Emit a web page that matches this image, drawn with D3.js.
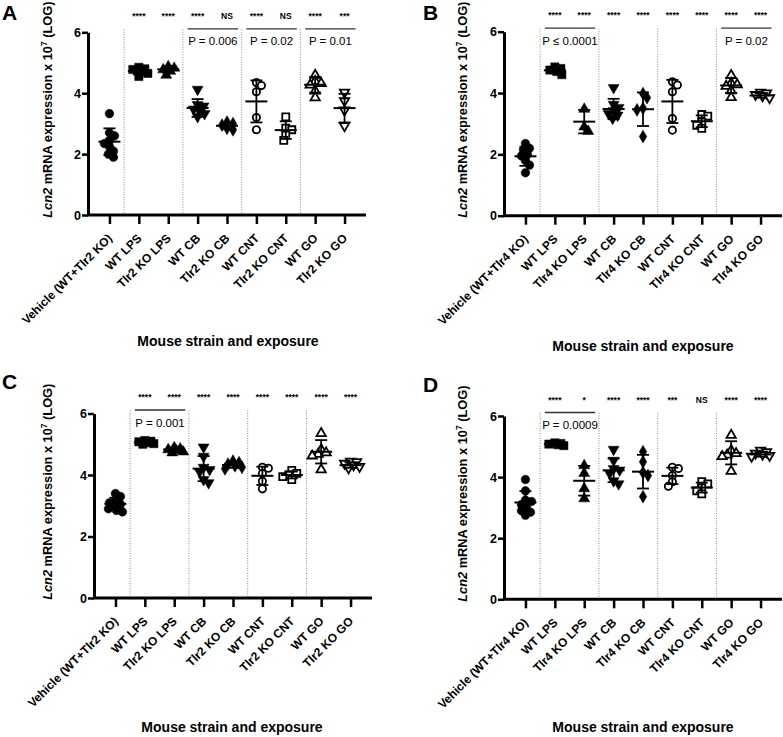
<!DOCTYPE html>
<html><head><meta charset="utf-8">
<script src="https://cdn.jsdelivr.net/npm/d3@7"></script>
<style>
html,body{margin:0;padding:0;background:#fff;}
svg{display:block;font-family:"Liberation Sans",Arial,Helvetica,sans-serif;}
</style></head>
<body>
<svg id="chart" width="783" height="737"></svg>
<script>
// ---------- data ----------
const categoriesTlr2 = ["Vehicle (WT+Tlr2 KO)","WT LPS","Tlr2 KO LPS","WT CB","Tlr2 KO CB","WT CNT","Tlr2 KO CNT","WT GO","Tlr2 KO GO"];
const categoriesTlr4 = ["Vehicle (WT+Tlr4 KO)","WT LPS","Tlr4 KO LPS","WT CB","Tlr4 KO CB","WT CNT","Tlr4 KO CNT","WT GO","Tlr4 KO GO"];
const yTicks = [0,2,4,6];

const valuesA = [
  [3.33,2.7,2.6,2.45,2.35,2.25,2.1,2.0,1.9],
  [4.85,4.8,4.78,4.72,4.65,4.55],
  [4.9,4.85,4.8,4.75,4.62],
  [4.1,3.6,3.55,3.45,3.4,3.3,3.2],
  [3.05,3.0,2.95,2.85,2.8],
  [4.35,4.25,4.05,3.2,2.8],
  [3.22,2.85,2.8,2.62,2.45],
  [4.62,4.42,4.35,4.3,4.1,3.88],
  [4.0,3.72,3.42,2.9]
];
const valuesB = [
  [2.35,2.2,2.15,2.0,1.95,1.8,1.65,1.4],
  [4.85,4.8,4.75,4.7,4.6],
  [3.5,2.92,2.78],
  [4.15,3.6,3.5,3.4,3.3,3.25,3.15],
  [3.98,3.85,3.5,3.45,2.58],
  [4.37,4.26,4.04,3.17,2.79],
  [3.3,3.25,3.05,2.95,2.85],
  [4.6,4.35,4.3,4.25,4.1,3.88],
  [4.0,3.97,3.92,3.88,3.82]
];
const valuesC = [
  [3.4,3.3,3.15,3.1,3.05,3.0,2.9,2.85,2.8],
  [5.12,5.1,5.08,5.05,5.02,5.0],
  [4.92,4.88,4.85,4.82,4.78,4.75],
  [4.88,4.58,4.22,4.15,4.08,3.82,3.72],
  [4.45,4.4,4.35,4.3,4.25,4.2],
  [4.25,4.22,4.05,3.8,3.55],
  [4.15,4.05,4.0,3.95,3.85],
  [5.38,4.85,4.75,4.7,4.65,4.2],
  [4.42,4.4,4.35,4.3,4.25,4.2]
];
const valuesD = [
  [3.92,3.55,3.25,3.2,3.1,3.0,2.9,2.85,2.75],
  [5.12,5.1,5.08,5.06,5.03],
  [4.4,4.15,3.65,3.32],
  [4.88,4.52,4.25,4.2,4.1,3.85,3.75],
  [4.83,4.5,4.15,4.05,3.36],
  [4.32,4.28,4.05,3.85,3.7],
  [3.85,3.78,3.65,3.55,3.45],
  [5.4,4.9,4.8,4.75,4.7,4.22],
  [4.85,4.8,4.75,4.72,4.68,4.65]
];
const starsA = ["****","****","****","NS","****","NS","****","***"];
const starsB = ["****","****","****","****","****","****","****","****"];
const starsC = ["****","****","****","****","****","****","****","****"];
const starsD = ["****","*","****","****","***","NS","****","****"];
const compA = [[3,4,"P = 0.006"],[5,6,"P = 0.02"],[7,8,"P = 0.01"]];
const compB = [[1,2,"P \u2264 0.0001"],[7,8,"P = 0.02"]];
const compC = [[1,2,"P = 0.001"]];
const compD = [[1,2,"P = 0.0009"]];
const dividersAfter = [0,2,4,6];

// marker style per category
const markers = [
  {t:d3.symbolCircle, fill:true, rot:0},
  {t:d3.symbolSquare, fill:true, rot:0},
  {t:d3.symbolTriangle, fill:true, rot:0},
  {t:d3.symbolTriangle, fill:true, rot:180},
  {t:d3.symbolDiamond, fill:true, rot:0},
  {t:d3.symbolCircle, fill:false, rot:0},
  {t:d3.symbolSquare, fill:false, rot:0},
  {t:d3.symbolTriangle, fill:false, rot:0},
  {t:d3.symbolTriangle, fill:false, rot:180}
];
const symSize = {circle:58, square:68, triangle:52, diamond:48};

const panels = [
  {letter:"A", lx:2, ly:20, x0:88, x1:366, yTop:32.3, yBot:215, cats:categoriesTlr2, vals:valuesA, stars:starsA, comps:compA, titleX:48, xTitleX:228, xTitleY:346},
  {letter:"B", lx:423, ly:20, x0:504, x1:782, yTop:31.7, yBot:215.7, cats:categoriesTlr4, vals:valuesB, stars:starsB, comps:compB, titleX:463, xTitleX:643, xTitleY:350.5},
  {letter:"C", lx:2, ly:389, x0:94, x1:372, yTop:413.5, yBot:598, cats:categoriesTlr2, vals:valuesC, stars:starsC, comps:compC, titleX:48, xTitleX:232, xTitleY:731.5},
  {letter:"D", lx:423, ly:392, x0:504, x1:782, yTop:416, yBot:599.3, cats:categoriesTlr4, vals:valuesD, stars:starsD, comps:compD, titleX:463, xTitleX:643, xTitleY:732}
];

const svg = d3.select("#chart");

function swarm(vals, y, cx, minDist, maxOff) {
  const idx = vals.map((v,i)=>i).sort((a,b)=>vals[b]-vals[a]);
  const placed = [];
  const xs = new Array(vals.length);
  let flip = 1;
  idx.forEach(i => {
    const py = y(vals[i]);
    let chosen = null, best = null, bestScore = Infinity;
    for (let k = 0; k <= maxOff; k++) {
      const cands = k === 0 ? [0] : [k*flip, -k*flip];
      for (const c of cands) {
        const md = placed.length ? Math.min(...placed.map(p => Math.hypot(p.x-c, p.y-py))) : Infinity;
        if (md >= minDist) { chosen = c; break; }
        if (-md < bestScore) { bestScore = -md; best = c; }
      }
      if (chosen !== null) break;
    }
    if (chosen === null) chosen = best;
    if (chosen !== 0) flip = -flip;
    placed.push({x:chosen, y:py});
    xs[i] = cx + chosen;
  });
  return xs;
}

panels.forEach(p => {
  const g = svg.append("g");
  const x = d3.scalePoint().domain(p.cats).range([p.x0, p.x1]).padding(0.73);
  const y = d3.scaleLinear().domain([0,6]).range([p.yBot, p.yTop]);

  // panel letter
  g.append("text").attr("x", p.lx).attr("y", p.ly).attr("font-size", 21).attr("font-weight", "bold").text(p.letter);

  // dividers
  dividersAfter.forEach(i => {
    const xm = (x(p.cats[i]) + x(p.cats[i+1]))/2;
    g.append("line").attr("x1", xm).attr("x2", xm).attr("y1", y(6)-3).attr("y2", y(0))
      .attr("stroke", "#8a8a8a").attr("stroke-width", 1).attr("stroke-dasharray", "1,1.5");
  });

  // y axis
  const yAxis = d3.axisLeft(y).tickValues(yTicks).tickFormat(d3.format("d")).tickSize(6).tickSizeOuter(0);
  const ya = g.append("g").attr("transform", `translate(${p.x0},0)`).call(yAxis);
  ya.select(".domain").attr("stroke-width", 3).attr("stroke", "#000");
  ya.selectAll(".tick line").attr("stroke-width", 2.5).attr("stroke", "#000");
  ya.selectAll(".tick text").attr("font-size", 12.5).attr("font-weight", "bold").attr("fill", "#000")
    .attr("font-family", "Liberation Sans, Arial, sans-serif").attr("x", -7);

  // x axis
  const xAxis = d3.axisBottom(x).tickSize(9).tickSizeOuter(0);
  const xa = g.append("g").attr("transform", `translate(0,${p.yBot})`).call(xAxis);
  xa.select(".domain").attr("stroke-width", 3).attr("stroke", "#000").attr("d", `M${p.x0-1},0H${p.x1}`);
  xa.selectAll(".tick line").attr("stroke-width", 2.5).attr("stroke", "#000");
  xa.selectAll(".tick text").attr("font-size", 12).attr("font-weight", "bold").attr("fill", "#000")
    .attr("font-family", "Liberation Sans, Arial, sans-serif")
    .attr("text-anchor", "end").attr("dy", null).attr("y", 0)
    .attr("transform", "translate(3,24) rotate(-45)");

  // y title
  const yt = g.append("text").attr("font-size", 12.8).attr("font-weight", "bold").attr("text-anchor", "middle")
    .attr("transform", `translate(${p.titleX},${(p.yTop+p.yBot)/2 - 14}) rotate(-90)`).attr("dy", "0.35em");
  yt.append("tspan").attr("font-style", "italic").text("Lcn2");
  yt.append("tspan").text(" mRNA expression x 10");
  yt.append("tspan").attr("font-size", 8.5).attr("dy", -5).text("7");
  yt.append("tspan").attr("dy", 5).text(" (LOG)");

  // x title
  g.append("text").attr("x", p.xTitleX).attr("y", p.xTitleY).attr("text-anchor", "middle")
    .attr("font-size", 14).attr("font-weight", "bold").text("Mouse strain and exposure");

  // stars
  p.stars.forEach((s, i) => {
    g.append("text").attr("x", x(p.cats[i+1])).attr("y", y(6) - 13.5).attr("text-anchor", "middle")
      .attr("font-size", 8.5).attr("font-weight", "bold").text(s);
  });

  // comparisons
  p.comps.forEach(([a, b, lab]) => {
    const xa0 = x(p.cats[a]) - 10, xb0 = x(p.cats[b]) + 11;
    g.append("line").attr("x1", xa0).attr("x2", xb0).attr("y1", y(6)-3.5).attr("y2", y(6)-3.5)
      .attr("stroke", "#333").attr("stroke-width", 1.3);
    g.append("text").attr("x", (xa0+xb0)/2).attr("y", y(6) + 13).attr("text-anchor", "middle")
      .attr("font-size", 11.5).text(lab);
  });

  // points
  p.vals.forEach((vals, ci) => {
    const cx = x(p.cats[ci]);
    const m = markers[ci];
    const xs = swarm(vals, y, cx, 5.5, 9);
    const key = m.t === d3.symbolCircle ? "circle" : m.t === d3.symbolSquare ? "square" : m.t === d3.symbolTriangle ? "triangle" : "diamond";
    const size = m.fill ? symSize[key] : symSize[key] * 0.72;
    const path = d3.symbol().type(m.t).size(size)();
    vals.forEach((v, k) => {
      const dyTri = (key === "triangle") ? (m.rot ? -0.8 : 0.8) : 0;
      g.append("path").attr("d", path)
        .attr("transform", `translate(${xs[k]},${y(v)+dyTri}) rotate(${m.rot})`)
        .attr("fill", m.fill ? "#000" : "#fff")
        .attr("stroke", "#000").attr("stroke-width", m.fill ? 0.5 : 1.8);
    });
    // mean & SD
    const mean = d3.mean(vals), sd = d3.deviation(vals);
    const eb = g.append("g").attr("stroke", "#000").attr("stroke-width", 1.8);
    eb.append("line").attr("x1", cx).attr("x2", cx).attr("y1", y(mean+sd)).attr("y2", y(mean-sd));
    eb.append("line").attr("x1", cx-6).attr("x2", cx+6).attr("y1", y(mean+sd)).attr("y2", y(mean+sd));
    eb.append("line").attr("x1", cx-6).attr("x2", cx+6).attr("y1", y(mean-sd)).attr("y2", y(mean-sd));
    eb.append("line").attr("x1", cx-11).attr("x2", cx+11).attr("y1", y(mean)).attr("y2", y(mean)).attr("stroke-width", 2);
  });
});
</script>
</body></html>
